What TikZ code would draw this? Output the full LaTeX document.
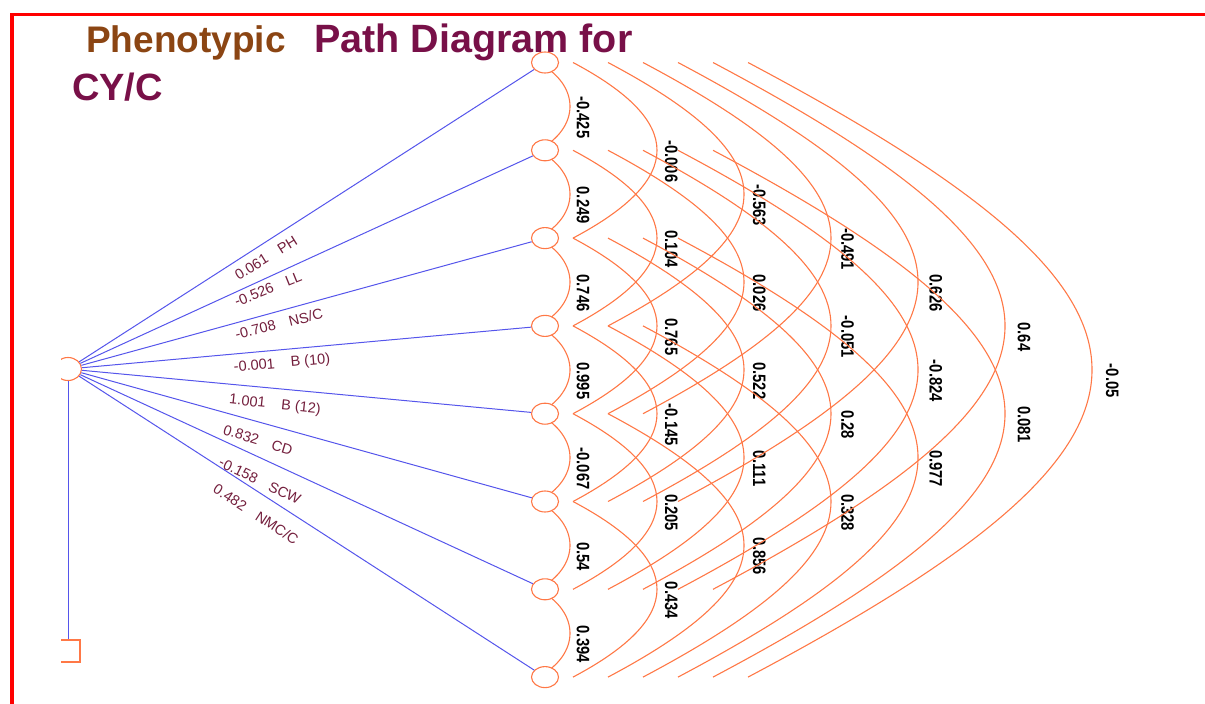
\documentclass[tikz,border=0pt]{standalone}
\usepackage{fontspec}
\setmainfont{Liberation Sans}
\newfontfamily\corrfont{Liberation Sans}[FakeStretch=0.82]
\usetikzlibrary{shapes.geometric,calc,backgrounds}
\definecolor{arcorange}{RGB}{255,120,70}
\definecolor{pathblue}{RGB}{85,85,235}
\definecolor{labmaroon}{RGB}{115,30,60}
\definecolor{titlebrown}{RGB}{139,69,19}
\definecolor{titlemaroon}{RGB}{120,16,72}
\tikzset{
  var/.style={ellipse, draw=arcorange, fill=white, line width=1.1pt, minimum width=27pt, minimum height=21pt, inner sep=0pt},
  corr/.style={draw=arcorange, line width=1.1pt},
  pathline/.style={draw=pathblue, line width=1pt},
  corrlab/.style={rotate=-90, inner sep=0pt, text=black, font=\corrfont\bfseries\fontsize{18}{18}\selectfont},
  pathlab/.style={inner sep=0pt, text=labmaroon, font=\fontsize{14.5}{14.5}\selectfont},
  ttl/.style={anchor=base west, inner sep=0pt, font=\bfseries}
}
\begin{document}
\begin{tikzpicture}[x=1pt,y=-1pt]
\useasboundingbox (0,0) rectangle (1205,704);
% frame
\draw[red, line width=3.5pt] (12,704) -- (12,14.5) -- (1205,14.5);
% title
\node[ttl, text=titlebrown, font=\bfseries\fontsize{37}{37}\selectfont] (t1) at (86,52) {Phenotypic};
\node[ttl, text=titlemaroon, font=\bfseries\fontsize{39.5}{39.5}\selectfont] (t2) at (314,52) {Path Diagram for};
\node[ttl, text=titlemaroon, font=\bfseries\fontsize{38}{38}\selectfont] (t3) at (72,100) {CY/C};
% left nodes (clipped at left as in the original)
\begin{scope}
  \clip (61,0) rectangle (1205,704);
  \node[ellipse, draw=arcorange, line width=1.1pt, minimum width=27pt, minimum height=23pt, inner sep=0pt] (Y) at (68,369) {};
  \node[rectangle, draw=arcorange, line width=1.1pt, minimum width=24pt, minimum height=22pt, inner sep=0pt] (U) at (68,651) {};
\end{scope}
% variable nodes
\foreach \k in {1,...,8} {
  \pgfmathsetmacro\yy{62.5+87.8*(\k-1)}
  \node[var] (c\k) at (545,\yy) {};
}
% correlation arcs
\begin{pgfonlayer}{background}
\foreach \i/\j/\v in {1/2/-0.425, 2/3/0.249, 3/4/0.746, 4/5/0.995, 5/6/-0.067, 6/7/0.54, 7/8/0.394,
                      1/3/-0.006, 2/4/0.104, 3/5/0.765, 4/6/-0.145, 5/7/0.205, 6/8/0.434,
                      1/4/-0.563, 2/5/0.026, 3/6/0.522, 4/7/0.111, 5/8/0.856,
                      1/5/-0.491, 2/6/-0.051, 3/7/0.28, 4/8/0.328,
                      1/6/0.626, 2/7/-0.824, 3/8/0.977,
                      1/7/0.64, 2/8/0.081,
                      1/8/-0.05} {
  \pgfmathsetmacro\dd{\j-\i}
  \pgfmathsetmacro\xs{-7+35*(\dd-1)}
  \pgfmathsetmacro\ca{(32+52*(\dd-1))/0.75}
  \pgfmathsetmacro\cb{0.53*\ca}
  \pgfmathsetmacro\lx{38+88.2*(\dd-1)}
  \draw[corr] ([xshift=\xs pt]c\i.center) .. controls +(\ca,\cb) and +(\ca,-\cb) .. ([xshift=\xs pt]c\j.center);
  \node[corrlab] (r\i\j) at ($(c\i)!0.5!(c\j)+(\lx,11)$) {\v};
}
\end{pgfonlayer}
% path lines
\foreach \k in {1,...,8} { \draw[pathline] (Y) -- (c\k); }
\draw[pathline] (Y) -- (U);
% path labels
\node[pathlab, rotate=32]  (p1) at (266,258) {0.061\hspace*{14pt}PH};
\node[pathlab, rotate=22]  (p2) at (268,289) {-0.526\hspace*{14pt}LL};
\node[pathlab, rotate=14]  (p3) at (279,324) {-0.708\hspace*{14pt}NS/C};
\node[pathlab, rotate=5]   (p4) at (282,364) {-0.001\hspace*{16pt}B (10)};
\node[pathlab, rotate=-6]  (p5) at (275,405) {1.001\hspace*{16pt}B (12)};
\node[pathlab, rotate=-17] (p6) at (258,440) {0.832\hspace*{14pt}CD};
\node[pathlab, rotate=-26] (p7) at (260,481) {-0.158\hspace*{14pt}SCW};
\node[pathlab, rotate=-33] (p8) at (256,514) {0.482\hspace*{14pt}NMC/C};
\end{tikzpicture}
\end{document}
